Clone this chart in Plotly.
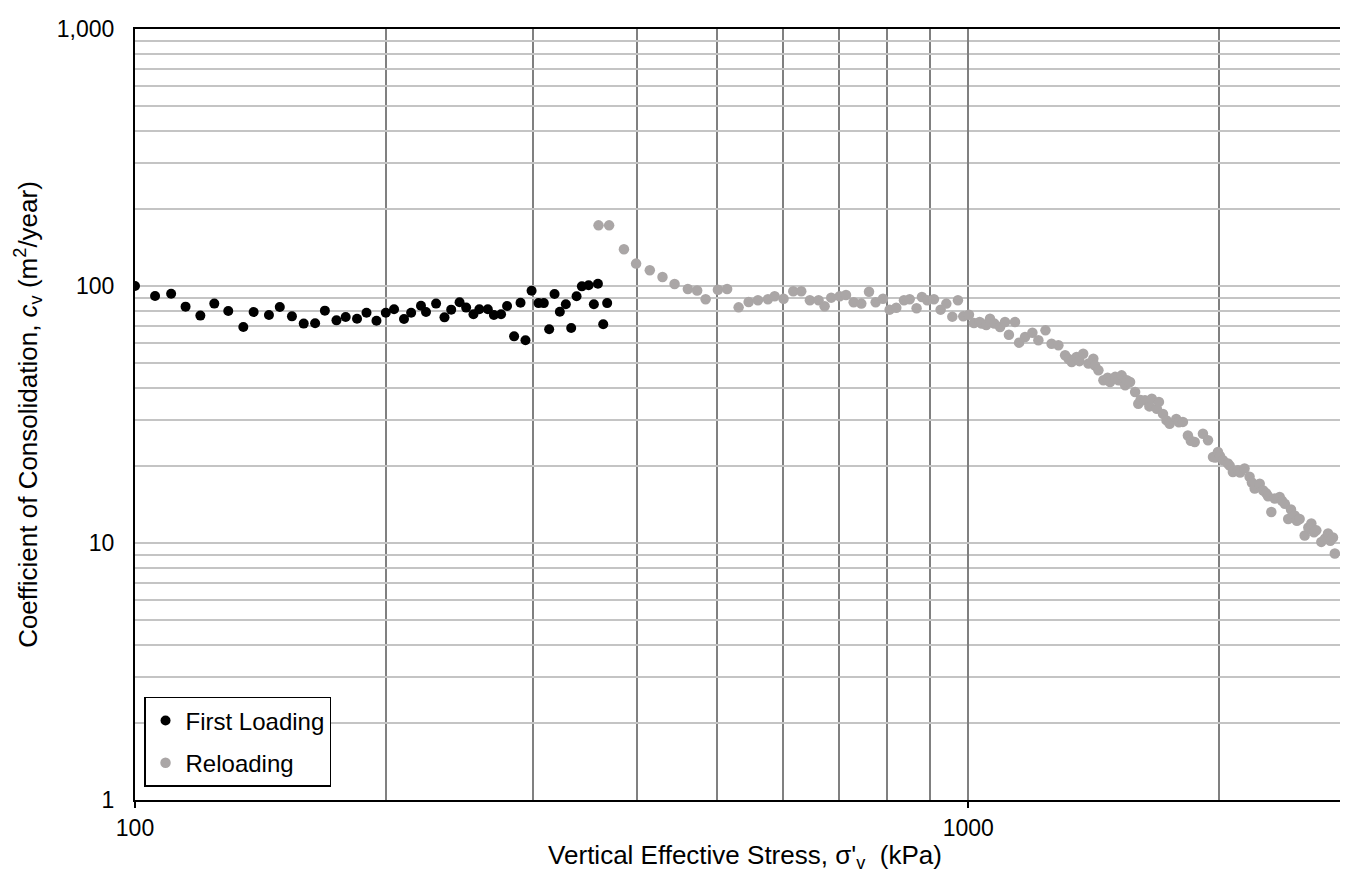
import plotly.graph_objects as go

# ---- data ----
first_x = [100, 105.7, 110.5, 115, 119.8, 124.5, 129.4, 134.9, 138.8, 144.8,
           149.2, 154.3, 159.4, 164.5, 169, 174.5, 179, 184.7, 189.6, 194.9,
           200, 204.6, 210.3, 214.5, 220.4, 223.5, 229.8, 235.2, 239.6, 245.2,
           249.7, 254.8, 259.0, 265.1, 269.6, 275.0, 279.6, 285.1, 290.2, 294.2,
           299.2, 305.0, 309.5, 314.1, 318.8, 323.5, 328.9, 333.8, 338.8, 343.8,
           350.3, 355.4, 359.4, 364.7, 368.7]
first_y = [100, 91.4, 93.3, 83.1, 76.7, 85.4, 79.9, 69.3, 79.2, 77.1,
           82.9, 76.2, 71.4, 71.6, 80.2, 73.5, 75.7, 74.6, 78.7, 73.3,
           78.7, 81.2, 74.4, 78.7, 83.8, 79.2, 85.4, 75.5, 80.9, 86.4,
           82.4, 77.6, 81.2, 81.2, 77.1, 77.6, 83.6, 63.7, 86.1, 61.5,
           95.9, 85.8, 85.8, 67.9, 93.1, 79.4, 84.9, 68.6, 91.2, 99.7,
           100.6, 84.9, 102, 71, 85.8]

reload_x = [360, 370.7, 386.2, 399.4, 414.8, 429.6, 444.2, 460.8, 472.8, 484,
            500.7, 513.6, 530.2, 545.1, 559.3, 574.9, 585.7, 600.3, 616.6, 630.4,
            645.6, 661.3, 672.4, 684.8, 701, 713.4, 728.6, 744.2, 760.2, 774.3,
            790.1, 804.8, 819.7, 837.3, 850.6, 867, 879.9, 892.9, 909.6, 926.6,
            941.3, 957, 972, 986.3, 1002, 1016, 1032, 1038, 1051, 1062,
            1075, 1092, 1107, 1119, 1138, 1151, 1170, 1194, 1214, 1238,
            1259, 1283, 1307, 1320, 1331, 1349, 1360, 1374, 1394, 1413,
            1420, 1433, 1453, 1470, 1480, 1501, 1515, 1528, 1543, 1550,
            1564, 1586, 1600, 1610, 1630, 1650, 1661, 1684, 1694, 1713,
            1730, 1745, 1777, 1790, 1810, 1835, 1850, 1870, 1913, 1940,
            1967, 1980, 1994, 2005, 2022, 2050, 2060, 2078, 2107, 2120,
            2146, 2176, 2190, 2207, 2238, 2260, 2279, 2290, 2311, 2333,
            2365, 2380, 2399, 2421, 2440, 2465, 2480, 2499, 2534, 2560,
            2581, 2600, 2617, 2653, 2680, 2703, 2720, 2740, 2754]
reload_y = [172.2, 172.2, 138.9, 122.2, 115.1, 108.4, 101.8, 97.3, 96, 88.8,
            96.7, 97.3, 82.6, 86.7, 88.0, 88.8, 91.2, 89.2, 95.4, 95.4,
            88.0, 88.0, 83.4, 90.1, 91.2, 92.3, 86.4, 85.4, 95.0, 86.4,
            89.2, 80.9, 82.3, 88.0, 88.8, 81.9, 90.6, 88.0, 88.8, 80.9,
            85.4, 76.0, 88.0, 76.2, 77.3, 71.8, 72.4, 71.4, 70.5, 74.6,
            71.4, 69.3, 72.4, 64.6, 72.4, 60.2, 63.3, 65.8, 61.5, 67.2,
            59.6, 58.8, 53.8, 52.0, 50.6, 52.9, 51.0, 54.5, 49.9, 52.1,
            49.0, 47.0, 43.0, 44.0, 42.3, 44.3, 43.0, 44.9, 41.1, 43.0,
            42.3, 38.7, 34.8, 36.0, 35.9, 34.0, 36.4, 33.3, 35.4, 31.8,
            30.0, 29.1, 30.4, 29.5, 29.6, 26.2, 25.0, 24.7, 26.6, 25.1,
            21.6, 21.5, 22.6, 21.8, 21.0, 20.4, 20.0, 18.9, 19.2, 18.8,
            19.5, 18.1, 17.2, 16.3, 17.0, 16.0, 15.6, 15.2, 13.2, 14.9,
            15.1, 14.6, 14.2, 12.4, 13.5, 12.8, 12.2, 12.4, 10.7, 11.5,
            11.9, 11.0, 11.2, 10.1, 10.4, 10.9, 10.2, 10.5, 9.1]

y_tickvals = [1, 10, 100, 1000]
y_ticktext = ['1', '10', '100', '1,000']
x_tickvals = [100, 1000]
x_ticktext = ['100', '1000']

FONT = 'Liberation Sans, Arial, sans-serif'

fig = go.Figure()

fig.add_trace(go.Scatter(
    x=first_x, y=first_y, mode='markers', name='First Loading',
    legendgroup='a',
    marker=dict(color='#000000', size=10)
))
fig.add_trace(go.Scatter(
    x=reload_x, y=reload_y, mode='markers', name='Reloading',
    legendgroup='b',
    marker=dict(color='#aaa6a6', size=10.5)
))

fig.update_xaxes(
    type='log', range=[2, 3.4642],
    tickvals=x_tickvals, ticktext=x_ticktext,
    showgrid=True, gridcolor='#808080', gridwidth=1.5,
    minor=dict(dtick='D1', showgrid=True, gridcolor='#808080', gridwidth=1.5),
    showline=True, linecolor='#000000', linewidth=2, mirror=True,
    ticks='outside', ticklen=6, tickcolor='#000000', tickwidth=1.5,
    tickfont=dict(size=23, color='#000000', family=FONT),
    title=dict(text="Vertical Effective Stress, σ'<sub>v</sub>  (kPa)",
               font=dict(size=26, color='#000000', family=FONT), standoff=6),
    zeroline=False
)
fig.update_yaxes(
    type='log', range=[0, 3],
    tickvals=y_tickvals, ticktext=y_ticktext,
    showgrid=True, gridcolor='#c4c4c4', gridwidth=1.5,
    minor=dict(dtick='D1', showgrid=True, gridcolor='#c4c4c4', gridwidth=1.5),
    showline=True, linecolor='#000000', linewidth=2,
    ticks='', ticklabelstandoff=14,
    tickfont=dict(size=23, color='#000000', family=FONT),
    title=dict(text='Coefficient of Consolidation, <i>c</i><sub>v</sub> (m<sup>2</sup>/year)',
               font=dict(size=26, color='#000000', family=FONT), standoff=12),
    zeroline=False
)

fig.update_layout(
    width=1348, height=876,
    margin=dict(l=127, r=1, t=21, b=84),
    paper_bgcolor='#ffffff', plot_bgcolor='#ffffff',
    font=dict(family=FONT, size=23, color='#000000'),
    showlegend=True,
    legend=dict(
        x=0.0074, y=0.017, xanchor='left', yanchor='bottom',
        bgcolor='#ffffff', bordercolor='#000000', borderwidth=1.5,
        font=dict(size=24, family=FONT, color='#000000'),
        tracegroupgap=8, itemwidth=30
    )
)

fig.write_html('out.html')
